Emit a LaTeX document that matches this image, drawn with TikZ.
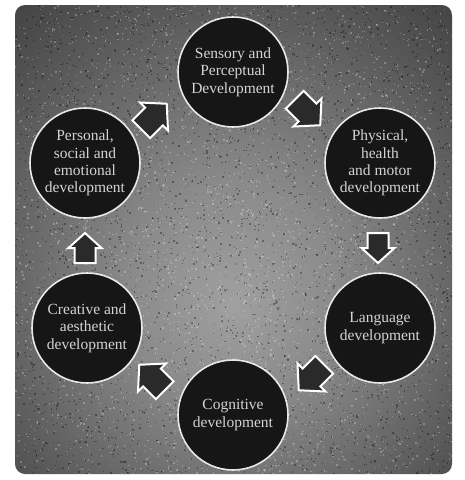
\documentclass[tikz,border=0pt]{standalone}
\usepackage{fontspec}
\setmainfont{Liberation Serif}
\usetikzlibrary{calc}
\definecolor{ringfill}{HTML}{161616}
\definecolor{ringline}{HTML}{E8E8E8}
\definecolor{txtcol}{HTML}{D4D4D4}
\definecolor{arrowfill}{HTML}{2A2A2A}
\definecolor{bgcentre}{HTML}{A0A0A0}
\definecolor{bginner}{HTML}{8A8A8A}
\definecolor{bgmid}{HTML}{585858}
\definecolor{bgedge}{HTML}{2A2A2A}
\pgfdeclareradialshading{bgshade}{\pgfpoint{0bp}{-7bp}}{color(0bp)=(bgcentre); color(12bp)=(bginner); color(30bp)=(bgmid); color(48bp)=(bgedge); color(75bp)=(bgedge)}
\tikzset{
  stage/.style={circle, draw=ringline, line width=1.6pt, fill=ringfill,
    minimum size=110pt, inner sep=0pt, text=txtcol, align=center,
    font=\fontsize{15.5}{17.3}\selectfont},
  blockarrow/.style={draw=white, line width=2pt, fill=arrowfill, line join=miter},
  speckle/.style={fill=white, fill opacity=0.25},
  shadowspeck/.style={fill=black, fill opacity=0.32}
}
\newcommand{\fatarrowpath}{(-15,-10.5) -- (0,-10.5) -- (0,-16.5) -- (15,0) -- (0,16.5) -- (0,10.5) -- (-15,10.5) -- cycle}
\begin{document}
\begin{tikzpicture}[x=1pt,y=-1pt]
\useasboundingbox (0,0) rectangle (465,480);
\fill[white] (0,0) rectangle (465,480);
\shade[shading=bgshade, rounded corners=10pt] (15,5) rectangle (452,474);
\begin{scope}
  \clip[rounded corners=10pt] (15,5) rectangle (452,474);
  \pgfmathsetseed{7}
  \foreach \k in {1,...,3500}{
    \pgfmathsetmacro{\px}{15+437*rnd}
    \pgfmathsetmacro{\py}{5+469*rnd}
    \fill[speckle] (\px,\py) rectangle ++(1.4,1.4);
  }
  \foreach \k in {1,...,3500}{
    \pgfmathsetmacro{\px}{15+437*rnd}
    \pgfmathsetmacro{\py}{5+469*rnd}
    \fill[shadowspeck] (\px,\py) rectangle ++(1.4,1.4);
  }
\end{scope}

\node[stage] (sens) at (233,72) {Sensory and\\Perceptual\\Development};
\node[stage] (phys) at (380,163) {Physical,\\health\\and motor\\development};
\node[stage] (lang) at (380,328) {Language\\development};
\node[stage] (cogn) at (233,415) {Cognitive\\development};
\node[stage] (crea) at (87,328) {Creative and\\aesthetic\\development};
\node[stage] (pers) at (85,163) {Personal,\\social and\\emotional\\development};

\draw[blockarrow, shift={($(pers)!0.5!(sens)+(-5,-1)$)}, rotate=45, scale=1.2] \fatarrowpath;
\draw[blockarrow, shift={($(sens)!0.5!(phys)+(1,-5)$)}, rotate=-45, scale=1.2] \fatarrowpath;
\draw[blockarrow, shift={($(phys)!0.5!(lang)+(-2,2.5)$)}, rotate=-90] \fatarrowpath;
\draw[blockarrow, shift={($(lang)!0.5!(cogn)+(5,6)$)}, rotate=-135, scale=1.2] \fatarrowpath;
\draw[blockarrow, shift={($(cogn)!0.5!(crea)+(-8,6)$)}, rotate=135, scale=1.2] \fatarrowpath;
\draw[blockarrow, shift={($(crea)!0.5!(pers)+(-1,2.5)$)}, rotate=90] \fatarrowpath;
\end{tikzpicture}
\end{document}
